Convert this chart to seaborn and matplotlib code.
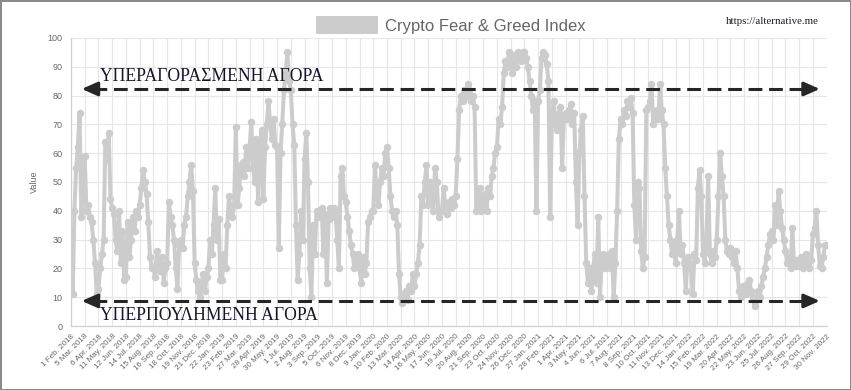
import matplotlib
matplotlib.use("Agg")
import matplotlib.pyplot as plt
from matplotlib.patches import Patch
import numpy as np
import pandas as pd
import seaborn as sns

# ticks every 32 days, one value read every 4 days
tick_step = 32
value_step = 4

tick_labels = [
    "1 Feb. 2018", "5 Mar. 2018", "6 Apr. 2018", "11 May. 2018", "12 Jun. 2018",
    "14 Jul. 2018", "15 Aug. 2018", "16 Sep. 2018", "18 Oct. 2018", "19 Nov. 2018",
    "21 Dec. 2018", "22 Jan. 2019", "23 Feb. 2019", "27 Mar. 2019", "28 Apr. 2019",
    "30 May. 2019", "1 Jul. 2019", "2 Aug. 2019", "3 Sep. 2019", "5 Oct. 2019",
    "6 Nov. 2019", "8 Dec. 2019", "9 Jan. 2020", "10 Feb. 2020", "13 Mar. 2020",
    "14 Apr. 2020", "16 May. 2020", "17 Jun. 2020", "19 Jul. 2020", "20 Aug. 2020",
    "21 Sep. 2020", "23 Oct. 2020", "24 Nov. 2020", "26 Dec. 2020", "27 Jan. 2021",
    "28 Feb. 2021", "1 Apr. 2021", "3 May. 2021", "4 Jun. 2021", "6 Jul. 2021",
    "7 Aug. 2021", "8 Sep. 2021", "10 Oct. 2021", "11 Nov. 2021", "13 Dec. 2021",
    "14 Jan. 2022", "15 Feb. 2022", "19 Mar. 2022", "20 Apr. 2022", "22 May. 2022",
    "23 Jun. 2022", "25 Jul. 2022", "26 Aug. 2022", "27 Sep. 2022", "29 Oct. 2022",
    "30 Nov. 2022",
]

values_2018 = [
    30, 11, 40, 55, 62, 74, 38, 45,  59, 40, 42, 38, 36, 30, 22, 11,
    13, 20, 25, 30, 64, 58, 67, 44,  41, 39, 30, 26, 40, 22, 33, 16,
    17, 36, 24, 30, 38, 33, 40, 38,  42, 48, 54, 50, 46, 36, 24, 20,
    20, 17, 26, 22, 19, 24, 15, 20,  22, 43, 38, 35, 30, 20, 13, 28,
    30, 27, 35, 38, 45, 50, 56, 47,  22, 16, 12, 10, 15, 18, 12, 17,
    20, 30, 25, 35, 48, 30, 37, 16,
]
values_2019 = [
    16, 25, 20, 35, 45, 40, 38, 42,  69, 42, 48, 56, 57, 52, 62, 55,
    62, 71, 55, 50, 65, 43, 60, 68,  44, 62, 70, 78, 70, 65, 72, 63,
    62, 27, 60, 70, 82, 88, 95, 85,  82, 70, 63, 35, 16, 25, 40, 30,
    58, 67, 50, 20, 10, 35, 25, 40,  40, 38, 41, 25, 39, 15, 37, 41,
    38, 41, 40, 30, 20, 52, 55, 45,  43, 38, 33, 28, 25, 20, 22, 25,
    20, 15, 24, 18, 22, 36, 38, 40,
]
values_2020 = [
    40, 56, 45, 42, 50, 55, 52, 60,  62, 55, 45, 40, 38, 40, 35, 18,
    10, 8, 11, 12, 9, 14, 12, 18,    14, 18, 22, 28, 45, 42, 50, 56,
    42, 50, 45, 40, 55, 50, 38, 40,  40, 48, 41, 39, 43, 41, 44, 42,
    45, 58, 75, 80, 78, 82, 80, 84,  82, 78, 80, 76, 40, 42, 48, 40,
    42, 46, 40, 48, 45, 52, 55, 60,  62, 72, 70, 76, 88, 92, 90, 95,
    92, 88, 94, 90, 95, 93, 92, 95,
]
values_2021 = [
    95, 93, 90, 85, 80, 75, 78, 40,  78, 82, 93, 95, 94, 91, 85, 38,
    72, 78, 70, 68, 74, 76, 55, 72,  74, 72, 75, 77, 70, 74, 50, 35,
    60, 68, 73, 45, 22, 15, 20, 12,  20, 25, 15, 38, 10, 22, 25, 20,
    22, 25, 20, 26, 10, 22, 40, 65,  72, 70, 75, 73, 78, 76, 79, 74,
    42, 30, 50, 48, 26, 20, 24, 75,  76, 78, 84, 70, 73, 75, 72, 84,
    75, 70, 55, 45, 35, 30, 25, 28,  22, 30, 40, 25, 28, 22, 12, 24,
]
values_2022 = [
    22, 20, 11, 25, 23, 48, 54, 45,  25, 22, 30, 52, 25, 22, 26, 24,
    30, 45, 60, 52, 45, 30, 26, 25,  27, 24, 22, 26, 20, 12, 10, 14,
    13, 11, 15, 16, 12, 10, 7, 9,    12, 10, 14, 17, 20, 24, 28, 32,
    33, 30, 42, 35, 47, 40, 34, 30,  26, 22, 24, 20, 34, 22, 21, 23,
    21, 24, 20, 22, 25, 21, 20, 23,  32, 34, 40, 28, 21, 20, 24, 28,
    28,
]

values = values_2018 + values_2019 + values_2020 + values_2021 + values_2022
df = pd.DataFrame({"day": np.arange(len(values)) * value_step, "value": values})
last_day = (len(tick_labels) - 1) * tick_step

sns.set_theme(style="whitegrid")
plt.rcParams["font.family"] = ["Liberation Sans", "DejaVu Sans"]

fig = plt.figure(figsize=(8.51, 3.9), dpi=100)
fig.patch.set_facecolor("white")
fig.patch.set_edgecolor("#8a8a8a")
fig.patch.set_linewidth(2)
ax = fig.add_axes([0.0834, 0.1641, 0.888, 0.7385])

sns.lineplot(data=df, x="day", y="value", ax=ax, color="#cccccc", lw=2.9,
             marker="o", markersize=5.4, markeredgewidth=0, legend=False)

ax.set_xlim(0, last_day)
ax.set_ylim(0, 100)
ax.set_xticks(np.arange(len(tick_labels)) * tick_step)
ax.set_xticklabels(tick_labels, rotation=45, ha="right", rotation_mode="anchor",
                   fontsize=5.8, color="#666666")
ax.set_yticks(range(0, 101, 10))
ax.tick_params(axis="y", labelsize=6.5, labelcolor="#666666")
ax.tick_params(axis="both", length=4, color="#e3e3e3", width=0.8, pad=2, direction="out")
ax.tick_params(axis="x", pad=1)
ax.grid(True, color="#e6e6e6", lw=0.8)
ax.set_facecolor("white")
for side in ["top", "right"]:
    ax.spines[side].set_visible(False)
for side in ["left", "bottom"]:
    ax.spines[side].set_color("#d0d0d0")
    ax.spines[side].set_linewidth(0.9)
ax.set_xlabel("")
ax.set_ylabel("Value", fontsize=6.5, color="#666666", labelpad=6)

# overbought / oversold arrows
arrow_color = "#262626"
head = 26
for level, txt, ty in [(82.3, "ΥΠΕΡΑΓΟΡΑΣΜΕΝΗ ΑΓΟΡΑ", 86.5),
                       (8.7, "ΥΠΕΡΠΟΥΛΗΜΕΝΗ ΑΓΟΡΑ", 3.6)]:
    x0, x1 = 25, 1744
    ax.plot([x0 + head, x1 - head], [level, level], color=arrow_color, lw=2.2,
            ls=(0, (4.5, 2.2)), solid_capstyle="butt", zorder=5)
    for tip, base in [(x0, x0 + head + 4), (x1, x1 - head - 4)]:
        ax.annotate("", xy=(tip, level), xytext=(base, level),
                    arrowprops=dict(arrowstyle="-|>,head_length=0.95,head_width=0.42",
                                    color=arrow_color, lw=2.2, mutation_scale=10,
                                    shrinkA=0, shrinkB=0), zorder=6)
    ax.text(67, ty, txt, fontsize=12.7, family=["Liberation Serif", "DejaVu Serif"],
            color="#14142a", ha="left", va="center", zorder=7)

fig.legend(handles=[Patch(facecolor="#cccccc", edgecolor="none")],
           labels=["Crypto Fear & Greed Index"], loc="center",
           bbox_to_anchor=(0.53, 0.936), frameon=False, fontsize=12,
           handlelength=3.7, handleheight=1.3, handletextpad=0.45,
           labelcolor="#666666")
fig.text(0.907, 0.944, "https://alternative.me", fontsize=7.8,
         family=["Liberation Serif", "DejaVu Serif"], color="#1a1a2a",
         ha="center", va="center")

fig.savefig("out.png", dpi=100, facecolor=fig.get_facecolor(),
            edgecolor=fig.get_edgecolor())
